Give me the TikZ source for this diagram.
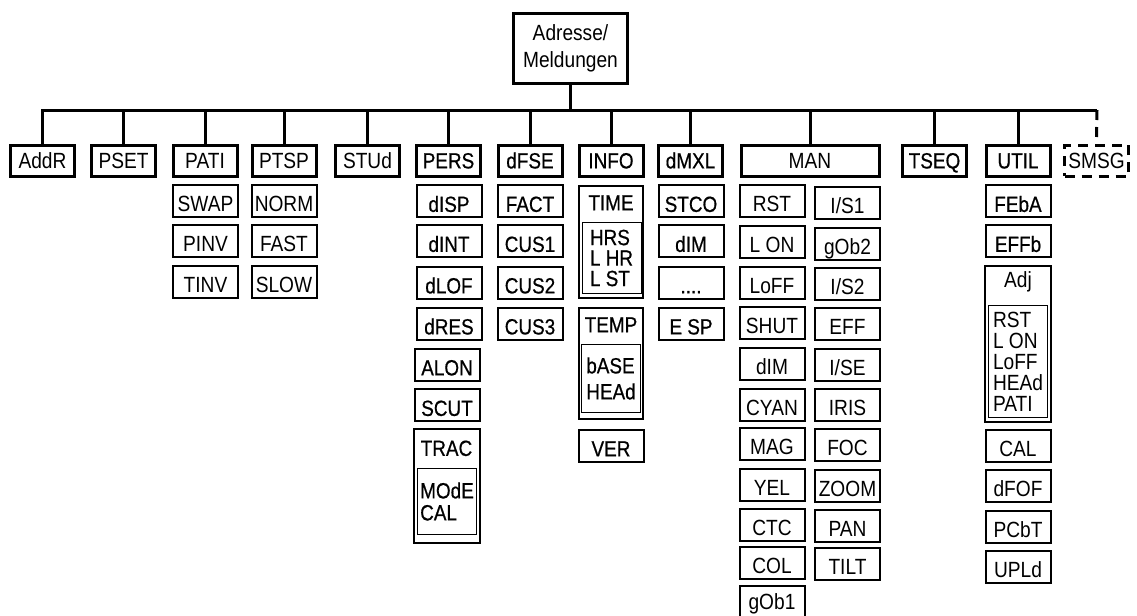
\documentclass[tikz,border=0pt]{standalone}
\usepackage{fontspec}
\setmainfont{Liberation Sans}[FakeStretch=0.87]
\newfontfamily\hvy{Liberation Sans}[FakeStretch=0.86,FakeBold=0.6]
\newcommand\fsz{\fontsize{11}{13.2}\selectfont}
\tikzset{
 tp/.style={draw,line width=1.5pt,inner sep=0pt,minimum width=57pt,minimum height=35pt,align=center,font=\fsz},
 hd/.style={draw,line width=1.5pt,inner sep=0pt,minimum width=32pt,minimum height=15.5pt,text height=7.9pt,text depth=0pt,font=\fsz},
 hh/.style={hd,font=\hvy\fsz},
 sb/.style={draw,line width=1pt,inner sep=0pt,minimum width=32.5pt,minimum height=16pt,text height=10.9pt,text depth=0pt,font=\fsz},
 sh/.style={sb,font=\hvy\fsz},
 tb/.style={draw,line width=1pt,inner sep=0pt,minimum width=32pt},
 ib/.style={draw,line width=0.5pt,inner sep=0pt,minimum width=29.5pt,align=left},
 tl/.style={inner sep=0pt,text height=7.9pt,text depth=0pt,font=\hvy\fsz},
 ln/.style={line width=1.5pt}}
\begin{document}
\begin{tikzpicture}[x=0.5pt,y=-0.5pt]
 \useasboundingbox (0,0) rectangle (1137,616);
 \node[tp] (top) at (570.5,48.5) {Adresse/\\Meldungen};
 \node[hd] (addr) at (42.5,160.5) {AddR};
 \node[hd] (pset) at (123.5,160.5) {PSET};
 \node[hd] (pati) at (205,160.5) {PATI};
 \node[hd] (ptsp) at (284,160.5) {PTSP};
 \node[hd] (stud) at (367.5,160.5) {STUd};
 \node[hh] (pers) at (448.5,160.5) {PERS};
 \node[hh] (dfse) at (530,160.5) {dFSE};
 \node[hh] (info) at (611,160.5) {INFO};
 \node[hh] (dmxl) at (690.5,160.5) {dMXL};
 \node[hd,minimum width=69pt] (man) at (810,160.5) {MAN};
 \node[hh] (tseq) at (934.5,160.5) {TSEQ};
 \node[hh] (util) at (1018,160.5) {UTIL};
 \node[hd,dash pattern=on 5pt off 3.5pt] (smsg) at (1096.5,160.5) {SMSG};
 \coordinate (busr) at (1097,110);
 \draw[ln] (top.south) -- (top.south |- busr);
 \draw[ln] (addr.north) |- (busr);
 \draw[ln] (pset.north) -- (pset.north |- busr) (pati.north) -- (pati.north |- busr)
  (ptsp.north) -- (ptsp.north |- busr) (stud.north) -- (stud.north |- busr)
  (pers.north) -- (pers.north |- busr) (dfse.north) -- (dfse.north |- busr)
  (info.north) -- (info.north |- busr) (dmxl.north) -- (dmxl.north |- busr)
  (man.north) -- (man.north |- busr) (tseq.north) -- (tseq.north |- busr)
  (util.north) -- (util.north |- busr);
 \draw[ln,dash pattern=on 5pt off 3.5pt] (busr) -- (smsg.north);
 \node[sb] (swap) at (205.5,201) {SWAP};
 \node[sb] (pinv) at (205.5,241) {PINV};
 \node[sb] (tinv) at (205.5,282) {TINV};
 \node[sb] (norm) at (284,201) {NORM};
 \node[sb] (fast) at (284,241) {FAST};
 \node[sb] (slow) at (284,282) {SLOW};
 \node[sh] (disp) at (449,201) {dISP};
 \node[sh] (dint) at (449,241) {dINT};
 \node[sh] (dlof) at (449,282.5) {dLOF};
 \node[sh] (dres) at (449,323.5) {dRES};
 \node[sh] (alon) at (447,364.5) {ALON};
 \node[sh] (scut) at (447,405) {SCUT};
 \node[tb,minimum width=33pt,minimum height=57pt] (trac) at (446.5,485.5) {};
 \node[tl] (tracl) at ([yshift=-10.25pt]trac.north) {TRAC};
 \node[ib,minimum height=33pt,font=\hvy\fontsize{11}{11}\selectfont] (tracm) at (447,501.5) {MOdE\\CAL};
 \node[sh] (fact) at (530,201) {FACT};
 \node[sh] (cus1) at (530,241) {CUS1};
 \node[sh] (cus2) at (530,282.5) {CUS2};
 \node[sh] (cus3) at (530,323.5) {CUS3};
 \node[tb,minimum height=56pt] (time) at (611,242) {};
 \node[tl] (timel) at ([yshift=-8.75pt]time.north) {TIME};
 \node[ib,minimum height=35.75pt,font=\hvy\fontsize{11}{10.25}\selectfont] (timem) at (611.5,258) {HRS\\L HR\\L ST};
 \node[tb,minimum height=55.5pt] (temp) at (611,363.5) {};
 \node[tl] (templ) at ([yshift=-8.75pt]temp.north) {TEMP};
 \node[ib,minimum height=34pt,font=\hvy\fontsize{11}{13}\selectfont] (tempm) at (611,378.5) {bASE\\HEAd};
 \node[sh] (ver) at (611,445.5) {VER};
 \node[sh] (stco) at (691,201) {STCO};
 \node[sh] (xdim) at (691,241) {dIM};
 \node[sh] (dots) at (691,282.5) {....};
 \node[sh] (esp) at (691,323.5) {E SP};
 \node[sb] (rst) at (772,201) {RST};
 \node[sb] (lon) at (772,242) {L ON};
 \node[sb] (loff) at (772,283) {LoFF};
 \node[sb] (shut) at (772,323) {SHUT};
 \node[sb] (mdim) at (772,363.5) {dIM};
 \node[sb] (cyan) at (772,404.5) {CYAN};
 \node[sb] (mag) at (772,443.5) {MAG};
 \node[sb] (yel) at (772,484.5) {YEL};
 \node[sb] (ctc) at (772,525) {CTC};
 \node[sb] (col) at (772,563) {COL};
 \node[sb,text height=7.9pt] (gob1) at (772,602) {gOb1};
 \node[sb] (is1) at (847.5,202.5) {I/S1};
 \node[sb] (gob2) at (847.5,243.5) {gOb2};
 \node[sb] (is2) at (847.5,283.5) {I/S2};
 \node[sb] (eff) at (847.5,324) {EFF};
 \node[sb] (ise) at (847.5,364.5) {I/SE};
 \node[sb] (iris) at (847.5,405) {IRIS};
 \node[sb] (foc) at (847.5,445) {FOC};
 \node[sb] (zoom) at (847.5,485.5) {ZOOM};
 \node[sb] (pan) at (847.5,526) {PAN};
 \node[sb] (tilt) at (847.5,564) {TILT};
 \node[sh] (feba) at (1018,201) {FEbA};
 \node[sh] (effb) at (1018,241) {EFFb};
 \node[tb,minimum width=33pt,minimum height=78pt] (adj) at (1018,343.5) {};
 \node[tl,font=\fsz] (adjl) at ([yshift=-7.75pt]adj.north) {Adj};
 \node[ib,minimum height=56pt,font=\fontsize{11}{10.5}\selectfont] (adjm) at (1018,361.5) {RST\\L ON\\LoFF\\HEAd\\PATI};
 \node[sb] (ucal) at (1018,445.5) {CAL};
 \node[sb] (dfof) at (1018,485.5) {dFOF};
 \node[sb] (pcbt) at (1018,526.5) {PCbT};
 \node[sb] (upld) at (1018,566.5) {UPLd};
\end{tikzpicture}
\end{document}
